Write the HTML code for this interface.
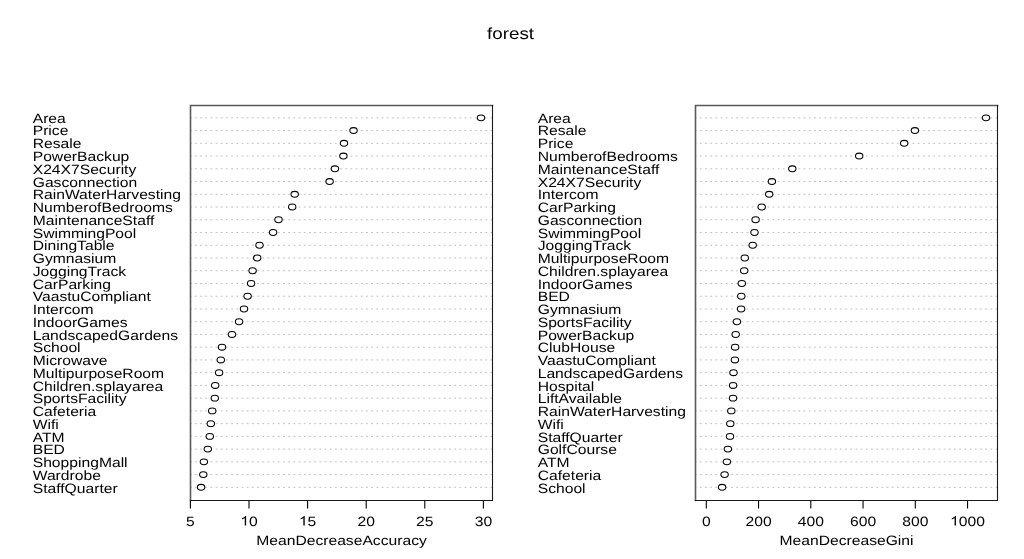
<!DOCTYPE html>
<html><head><meta charset="utf-8"><style>
html,body{margin:0;padding:0;background:#fff;width:1024px;height:559px;overflow:hidden}
svg{display:block;will-change:transform}
text{font-family:"Liberation Sans",sans-serif;fill:#000;text-rendering:geometricPrecision}
</style></head><body>
<svg width="1024" height="559" viewBox="0 0 1024 559">
<rect x="0" y="0" width="1024" height="559" fill="#fff"/>

<text transform="translate(510.6,38.5) scale(1.16,1)" font-size="16.2" text-anchor="middle">forest</text>
<line x1="190.50" y1="117.85" x2="492.50" y2="117.85" stroke="#bebebe" stroke-width="1" stroke-dasharray="1.8 3.387" stroke-dashoffset="0.800"/>
<line x1="190.50" y1="130.59" x2="492.50" y2="130.59" stroke="#bebebe" stroke-width="1" stroke-dasharray="1.8 3.387" stroke-dashoffset="0.800"/>
<line x1="190.50" y1="143.33" x2="492.50" y2="143.33" stroke="#bebebe" stroke-width="1" stroke-dasharray="1.8 3.387" stroke-dashoffset="0.800"/>
<line x1="190.50" y1="156.07" x2="492.50" y2="156.07" stroke="#bebebe" stroke-width="1" stroke-dasharray="1.8 3.387" stroke-dashoffset="0.800"/>
<line x1="190.50" y1="168.81" x2="492.50" y2="168.81" stroke="#bebebe" stroke-width="1" stroke-dasharray="1.8 3.387" stroke-dashoffset="0.800"/>
<line x1="190.50" y1="181.56" x2="492.50" y2="181.56" stroke="#bebebe" stroke-width="1" stroke-dasharray="1.8 3.387" stroke-dashoffset="0.800"/>
<line x1="190.50" y1="194.30" x2="492.50" y2="194.30" stroke="#bebebe" stroke-width="1" stroke-dasharray="1.8 3.387" stroke-dashoffset="0.800"/>
<line x1="190.50" y1="207.04" x2="492.50" y2="207.04" stroke="#bebebe" stroke-width="1" stroke-dasharray="1.8 3.387" stroke-dashoffset="0.800"/>
<line x1="190.50" y1="219.78" x2="492.50" y2="219.78" stroke="#bebebe" stroke-width="1" stroke-dasharray="1.8 3.387" stroke-dashoffset="0.800"/>
<line x1="190.50" y1="232.52" x2="492.50" y2="232.52" stroke="#bebebe" stroke-width="1" stroke-dasharray="1.8 3.387" stroke-dashoffset="0.800"/>
<line x1="190.50" y1="245.26" x2="492.50" y2="245.26" stroke="#bebebe" stroke-width="1" stroke-dasharray="1.8 3.387" stroke-dashoffset="0.800"/>
<line x1="190.50" y1="258.00" x2="492.50" y2="258.00" stroke="#bebebe" stroke-width="1" stroke-dasharray="1.8 3.387" stroke-dashoffset="0.800"/>
<line x1="190.50" y1="270.74" x2="492.50" y2="270.74" stroke="#bebebe" stroke-width="1" stroke-dasharray="1.8 3.387" stroke-dashoffset="0.800"/>
<line x1="190.50" y1="283.48" x2="492.50" y2="283.48" stroke="#bebebe" stroke-width="1" stroke-dasharray="1.8 3.387" stroke-dashoffset="0.800"/>
<line x1="190.50" y1="296.22" x2="492.50" y2="296.22" stroke="#bebebe" stroke-width="1" stroke-dasharray="1.8 3.387" stroke-dashoffset="0.800"/>
<line x1="190.50" y1="308.97" x2="492.50" y2="308.97" stroke="#bebebe" stroke-width="1" stroke-dasharray="1.8 3.387" stroke-dashoffset="0.800"/>
<line x1="190.50" y1="321.71" x2="492.50" y2="321.71" stroke="#bebebe" stroke-width="1" stroke-dasharray="1.8 3.387" stroke-dashoffset="0.800"/>
<line x1="190.50" y1="334.45" x2="492.50" y2="334.45" stroke="#bebebe" stroke-width="1" stroke-dasharray="1.8 3.387" stroke-dashoffset="0.800"/>
<line x1="190.50" y1="347.19" x2="492.50" y2="347.19" stroke="#bebebe" stroke-width="1" stroke-dasharray="1.8 3.387" stroke-dashoffset="0.800"/>
<line x1="190.50" y1="359.93" x2="492.50" y2="359.93" stroke="#bebebe" stroke-width="1" stroke-dasharray="1.8 3.387" stroke-dashoffset="0.800"/>
<line x1="190.50" y1="372.67" x2="492.50" y2="372.67" stroke="#bebebe" stroke-width="1" stroke-dasharray="1.8 3.387" stroke-dashoffset="0.800"/>
<line x1="190.50" y1="385.41" x2="492.50" y2="385.41" stroke="#bebebe" stroke-width="1" stroke-dasharray="1.8 3.387" stroke-dashoffset="0.800"/>
<line x1="190.50" y1="398.15" x2="492.50" y2="398.15" stroke="#bebebe" stroke-width="1" stroke-dasharray="1.8 3.387" stroke-dashoffset="0.800"/>
<line x1="190.50" y1="410.89" x2="492.50" y2="410.89" stroke="#bebebe" stroke-width="1" stroke-dasharray="1.8 3.387" stroke-dashoffset="0.800"/>
<line x1="190.50" y1="423.63" x2="492.50" y2="423.63" stroke="#bebebe" stroke-width="1" stroke-dasharray="1.8 3.387" stroke-dashoffset="0.800"/>
<line x1="190.50" y1="436.38" x2="492.50" y2="436.38" stroke="#bebebe" stroke-width="1" stroke-dasharray="1.8 3.387" stroke-dashoffset="0.800"/>
<line x1="190.50" y1="449.12" x2="492.50" y2="449.12" stroke="#bebebe" stroke-width="1" stroke-dasharray="1.8 3.387" stroke-dashoffset="0.800"/>
<line x1="190.50" y1="461.86" x2="492.50" y2="461.86" stroke="#bebebe" stroke-width="1" stroke-dasharray="1.8 3.387" stroke-dashoffset="0.800"/>
<line x1="190.50" y1="474.60" x2="492.50" y2="474.60" stroke="#bebebe" stroke-width="1" stroke-dasharray="1.8 3.387" stroke-dashoffset="0.800"/>
<line x1="190.50" y1="487.34" x2="492.50" y2="487.34" stroke="#bebebe" stroke-width="1" stroke-dasharray="1.8 3.387" stroke-dashoffset="0.800"/>
<path d="M190.50 500.50V105.50H492.50" fill="none" stroke="#5a5a5a" stroke-width="1.6" stroke-linecap="square"/>
<path d="M190.50 500.50H492.50V105.50" fill="none" stroke="#1a1a1a" stroke-width="1.1" stroke-linecap="square"/>
<ellipse cx="481.00" cy="117.85" rx="3.7" ry="2.95" fill="#fff" stroke="#000" stroke-width="1.05"/>
<ellipse cx="353.50" cy="130.59" rx="3.7" ry="2.95" fill="#fff" stroke="#000" stroke-width="1.05"/>
<ellipse cx="344.00" cy="143.33" rx="3.7" ry="2.95" fill="#fff" stroke="#000" stroke-width="1.05"/>
<ellipse cx="343.40" cy="156.07" rx="3.7" ry="2.95" fill="#fff" stroke="#000" stroke-width="1.05"/>
<ellipse cx="334.90" cy="168.81" rx="3.7" ry="2.95" fill="#fff" stroke="#000" stroke-width="1.05"/>
<ellipse cx="329.60" cy="181.56" rx="3.7" ry="2.95" fill="#fff" stroke="#000" stroke-width="1.05"/>
<ellipse cx="294.70" cy="194.30" rx="3.7" ry="2.95" fill="#fff" stroke="#000" stroke-width="1.05"/>
<ellipse cx="292.20" cy="207.04" rx="3.7" ry="2.95" fill="#fff" stroke="#000" stroke-width="1.05"/>
<ellipse cx="278.50" cy="219.78" rx="3.7" ry="2.95" fill="#fff" stroke="#000" stroke-width="1.05"/>
<ellipse cx="273.10" cy="232.52" rx="3.7" ry="2.95" fill="#fff" stroke="#000" stroke-width="1.05"/>
<ellipse cx="259.50" cy="245.26" rx="3.7" ry="2.95" fill="#fff" stroke="#000" stroke-width="1.05"/>
<ellipse cx="257.20" cy="258.00" rx="3.7" ry="2.95" fill="#fff" stroke="#000" stroke-width="1.05"/>
<ellipse cx="252.60" cy="270.74" rx="3.7" ry="2.95" fill="#fff" stroke="#000" stroke-width="1.05"/>
<ellipse cx="251.10" cy="283.48" rx="3.7" ry="2.95" fill="#fff" stroke="#000" stroke-width="1.05"/>
<ellipse cx="247.60" cy="296.22" rx="3.7" ry="2.95" fill="#fff" stroke="#000" stroke-width="1.05"/>
<ellipse cx="244.00" cy="308.97" rx="3.7" ry="2.95" fill="#fff" stroke="#000" stroke-width="1.05"/>
<ellipse cx="239.10" cy="321.71" rx="3.7" ry="2.95" fill="#fff" stroke="#000" stroke-width="1.05"/>
<ellipse cx="232.00" cy="334.45" rx="3.7" ry="2.95" fill="#fff" stroke="#000" stroke-width="1.05"/>
<ellipse cx="222.00" cy="347.19" rx="3.7" ry="2.95" fill="#fff" stroke="#000" stroke-width="1.05"/>
<ellipse cx="220.80" cy="359.93" rx="3.7" ry="2.95" fill="#fff" stroke="#000" stroke-width="1.05"/>
<ellipse cx="219.10" cy="372.67" rx="3.7" ry="2.95" fill="#fff" stroke="#000" stroke-width="1.05"/>
<ellipse cx="215.20" cy="385.41" rx="3.7" ry="2.95" fill="#fff" stroke="#000" stroke-width="1.05"/>
<ellipse cx="214.80" cy="398.15" rx="3.7" ry="2.95" fill="#fff" stroke="#000" stroke-width="1.05"/>
<ellipse cx="212.20" cy="410.89" rx="3.7" ry="2.95" fill="#fff" stroke="#000" stroke-width="1.05"/>
<ellipse cx="210.80" cy="423.63" rx="3.7" ry="2.95" fill="#fff" stroke="#000" stroke-width="1.05"/>
<ellipse cx="209.80" cy="436.38" rx="3.7" ry="2.95" fill="#fff" stroke="#000" stroke-width="1.05"/>
<ellipse cx="207.80" cy="449.12" rx="3.7" ry="2.95" fill="#fff" stroke="#000" stroke-width="1.05"/>
<ellipse cx="203.90" cy="461.86" rx="3.7" ry="2.95" fill="#fff" stroke="#000" stroke-width="1.05"/>
<ellipse cx="203.30" cy="474.60" rx="3.7" ry="2.95" fill="#fff" stroke="#000" stroke-width="1.05"/>
<ellipse cx="201.10" cy="487.34" rx="3.7" ry="2.95" fill="#fff" stroke="#000" stroke-width="1.05"/>
<text transform="translate(32.70,122.73) scale(1.16,1)" font-size="13.5">Area</text>
<text transform="translate(32.70,135.49) scale(1.16,1)" font-size="13.5">Price</text>
<text transform="translate(32.70,148.24) scale(1.16,1)" font-size="13.5">Resale</text>
<text transform="translate(32.70,161.00) scale(1.16,1)" font-size="13.5">PowerBackup</text>
<text transform="translate(32.70,173.75) scale(1.16,1)" font-size="13.5">X24X7Security</text>
<text transform="translate(32.70,186.51) scale(1.16,1)" font-size="13.5">Gasconnection</text>
<text transform="translate(32.70,199.27) scale(1.16,1)" font-size="13.5">RainWaterHarvesting</text>
<text transform="translate(32.70,212.02) scale(1.16,1)" font-size="13.5">NumberofBedrooms</text>
<text transform="translate(32.70,224.78) scale(1.16,1)" font-size="13.5">MaintenanceStaff</text>
<text transform="translate(32.70,237.53) scale(1.16,1)" font-size="13.5">SwimmingPool</text>
<text transform="translate(32.70,250.29) scale(1.16,1)" font-size="13.5">DiningTable</text>
<text transform="translate(32.70,263.05) scale(1.16,1)" font-size="13.5">Gymnasium</text>
<text transform="translate(32.70,275.80) scale(1.16,1)" font-size="13.5">JoggingTrack</text>
<text transform="translate(32.70,288.56) scale(1.16,1)" font-size="13.5">CarParking</text>
<text transform="translate(32.70,301.31) scale(1.16,1)" font-size="13.5">VaastuCompliant</text>
<text transform="translate(32.70,314.07) scale(1.16,1)" font-size="13.5">Intercom</text>
<text transform="translate(32.70,326.83) scale(1.16,1)" font-size="13.5">IndoorGames</text>
<text transform="translate(32.70,339.58) scale(1.16,1)" font-size="13.5">LandscapedGardens</text>
<text transform="translate(32.70,352.34) scale(1.16,1)" font-size="13.5">School</text>
<text transform="translate(32.70,365.09) scale(1.16,1)" font-size="13.5">Microwave</text>
<text transform="translate(32.70,377.85) scale(1.16,1)" font-size="13.5">MultipurposeRoom</text>
<text transform="translate(32.70,390.61) scale(1.16,1)" font-size="13.5">Children.splayarea</text>
<text transform="translate(32.70,403.36) scale(1.16,1)" font-size="13.5">SportsFacility</text>
<text transform="translate(32.70,416.12) scale(1.16,1)" font-size="13.5">Cafeteria</text>
<text transform="translate(32.70,428.87) scale(1.16,1)" font-size="13.5">Wifi</text>
<text transform="translate(32.70,441.63) scale(1.16,1)" font-size="13.5">ATM</text>
<text transform="translate(32.70,454.39) scale(1.16,1)" font-size="13.5">BED</text>
<text transform="translate(32.70,467.14) scale(1.16,1)" font-size="13.5">ShoppingMall</text>
<text transform="translate(32.70,479.90) scale(1.16,1)" font-size="13.5">Wardrobe</text>
<text transform="translate(32.70,492.65) scale(1.16,1)" font-size="13.5">StaffQuarter</text>
<line x1="190.40" y1="500.50" x2="190.40" y2="508.5" stroke="#000" stroke-width="1.1"/>
<text transform="translate(186.05,525.60) scale(1.16,1)" font-size="13.5">5</text>
<line x1="249.00" y1="500.50" x2="249.00" y2="508.5" stroke="#000" stroke-width="1.1"/>
<path transform="translate(240.29,525.60) scale(0.00765,-0.00659)" d="M763 0L583 0L583 1147C540 1106 483 1065 413 1024C343 983 280 952 223 931L223 1105C324 1152 412 1210 487 1277C562 1344 615 1409 646 1472L763 1472Z" fill="#000"/><text transform="translate(249.00,525.60) scale(1.16,1)" font-size="13.5">0</text>
<line x1="307.60" y1="500.50" x2="307.60" y2="508.5" stroke="#000" stroke-width="1.1"/>
<path transform="translate(298.89,525.60) scale(0.00765,-0.00659)" d="M763 0L583 0L583 1147C540 1106 483 1065 413 1024C343 983 280 952 223 931L223 1105C324 1152 412 1210 487 1277C562 1344 615 1409 646 1472L763 1472Z" fill="#000"/><text transform="translate(307.60,525.60) scale(1.16,1)" font-size="13.5">5</text>
<line x1="366.20" y1="500.50" x2="366.20" y2="508.5" stroke="#000" stroke-width="1.1"/>
<text transform="translate(357.49,525.60) scale(1.16,1)" font-size="13.5">2</text><text transform="translate(366.20,525.60) scale(1.16,1)" font-size="13.5">0</text>
<line x1="424.80" y1="500.50" x2="424.80" y2="508.5" stroke="#000" stroke-width="1.1"/>
<text transform="translate(416.09,525.60) scale(1.16,1)" font-size="13.5">2</text><text transform="translate(424.80,525.60) scale(1.16,1)" font-size="13.5">5</text>
<line x1="483.40" y1="500.50" x2="483.40" y2="508.5" stroke="#000" stroke-width="1.1"/>
<text transform="translate(474.69,525.60) scale(1.16,1)" font-size="13.5">3</text><text transform="translate(483.40,525.60) scale(1.16,1)" font-size="13.5">0</text>
<text transform="translate(341.50,545.2) scale(1.16,1)" font-size="13.5" text-anchor="middle">MeanDecreaseAccuracy</text>
<line x1="695.50" y1="117.85" x2="997.50" y2="117.85" stroke="#bebebe" stroke-width="1" stroke-dasharray="1.8 3.387" stroke-dashoffset="0.800"/>
<line x1="695.50" y1="130.59" x2="997.50" y2="130.59" stroke="#bebebe" stroke-width="1" stroke-dasharray="1.8 3.387" stroke-dashoffset="0.800"/>
<line x1="695.50" y1="143.33" x2="997.50" y2="143.33" stroke="#bebebe" stroke-width="1" stroke-dasharray="1.8 3.387" stroke-dashoffset="0.800"/>
<line x1="695.50" y1="156.07" x2="997.50" y2="156.07" stroke="#bebebe" stroke-width="1" stroke-dasharray="1.8 3.387" stroke-dashoffset="0.800"/>
<line x1="695.50" y1="168.81" x2="997.50" y2="168.81" stroke="#bebebe" stroke-width="1" stroke-dasharray="1.8 3.387" stroke-dashoffset="0.800"/>
<line x1="695.50" y1="181.56" x2="997.50" y2="181.56" stroke="#bebebe" stroke-width="1" stroke-dasharray="1.8 3.387" stroke-dashoffset="0.800"/>
<line x1="695.50" y1="194.30" x2="997.50" y2="194.30" stroke="#bebebe" stroke-width="1" stroke-dasharray="1.8 3.387" stroke-dashoffset="0.800"/>
<line x1="695.50" y1="207.04" x2="997.50" y2="207.04" stroke="#bebebe" stroke-width="1" stroke-dasharray="1.8 3.387" stroke-dashoffset="0.800"/>
<line x1="695.50" y1="219.78" x2="997.50" y2="219.78" stroke="#bebebe" stroke-width="1" stroke-dasharray="1.8 3.387" stroke-dashoffset="0.800"/>
<line x1="695.50" y1="232.52" x2="997.50" y2="232.52" stroke="#bebebe" stroke-width="1" stroke-dasharray="1.8 3.387" stroke-dashoffset="0.800"/>
<line x1="695.50" y1="245.26" x2="997.50" y2="245.26" stroke="#bebebe" stroke-width="1" stroke-dasharray="1.8 3.387" stroke-dashoffset="0.800"/>
<line x1="695.50" y1="258.00" x2="997.50" y2="258.00" stroke="#bebebe" stroke-width="1" stroke-dasharray="1.8 3.387" stroke-dashoffset="0.800"/>
<line x1="695.50" y1="270.74" x2="997.50" y2="270.74" stroke="#bebebe" stroke-width="1" stroke-dasharray="1.8 3.387" stroke-dashoffset="0.800"/>
<line x1="695.50" y1="283.48" x2="997.50" y2="283.48" stroke="#bebebe" stroke-width="1" stroke-dasharray="1.8 3.387" stroke-dashoffset="0.800"/>
<line x1="695.50" y1="296.22" x2="997.50" y2="296.22" stroke="#bebebe" stroke-width="1" stroke-dasharray="1.8 3.387" stroke-dashoffset="0.800"/>
<line x1="695.50" y1="308.97" x2="997.50" y2="308.97" stroke="#bebebe" stroke-width="1" stroke-dasharray="1.8 3.387" stroke-dashoffset="0.800"/>
<line x1="695.50" y1="321.71" x2="997.50" y2="321.71" stroke="#bebebe" stroke-width="1" stroke-dasharray="1.8 3.387" stroke-dashoffset="0.800"/>
<line x1="695.50" y1="334.45" x2="997.50" y2="334.45" stroke="#bebebe" stroke-width="1" stroke-dasharray="1.8 3.387" stroke-dashoffset="0.800"/>
<line x1="695.50" y1="347.19" x2="997.50" y2="347.19" stroke="#bebebe" stroke-width="1" stroke-dasharray="1.8 3.387" stroke-dashoffset="0.800"/>
<line x1="695.50" y1="359.93" x2="997.50" y2="359.93" stroke="#bebebe" stroke-width="1" stroke-dasharray="1.8 3.387" stroke-dashoffset="0.800"/>
<line x1="695.50" y1="372.67" x2="997.50" y2="372.67" stroke="#bebebe" stroke-width="1" stroke-dasharray="1.8 3.387" stroke-dashoffset="0.800"/>
<line x1="695.50" y1="385.41" x2="997.50" y2="385.41" stroke="#bebebe" stroke-width="1" stroke-dasharray="1.8 3.387" stroke-dashoffset="0.800"/>
<line x1="695.50" y1="398.15" x2="997.50" y2="398.15" stroke="#bebebe" stroke-width="1" stroke-dasharray="1.8 3.387" stroke-dashoffset="0.800"/>
<line x1="695.50" y1="410.89" x2="997.50" y2="410.89" stroke="#bebebe" stroke-width="1" stroke-dasharray="1.8 3.387" stroke-dashoffset="0.800"/>
<line x1="695.50" y1="423.63" x2="997.50" y2="423.63" stroke="#bebebe" stroke-width="1" stroke-dasharray="1.8 3.387" stroke-dashoffset="0.800"/>
<line x1="695.50" y1="436.38" x2="997.50" y2="436.38" stroke="#bebebe" stroke-width="1" stroke-dasharray="1.8 3.387" stroke-dashoffset="0.800"/>
<line x1="695.50" y1="449.12" x2="997.50" y2="449.12" stroke="#bebebe" stroke-width="1" stroke-dasharray="1.8 3.387" stroke-dashoffset="0.800"/>
<line x1="695.50" y1="461.86" x2="997.50" y2="461.86" stroke="#bebebe" stroke-width="1" stroke-dasharray="1.8 3.387" stroke-dashoffset="0.800"/>
<line x1="695.50" y1="474.60" x2="997.50" y2="474.60" stroke="#bebebe" stroke-width="1" stroke-dasharray="1.8 3.387" stroke-dashoffset="0.800"/>
<line x1="695.50" y1="487.34" x2="997.50" y2="487.34" stroke="#bebebe" stroke-width="1" stroke-dasharray="1.8 3.387" stroke-dashoffset="0.800"/>
<path d="M695.50 500.50V105.50H997.50" fill="none" stroke="#5a5a5a" stroke-width="1.6" stroke-linecap="square"/>
<path d="M695.50 500.50H997.50V105.50" fill="none" stroke="#1a1a1a" stroke-width="1.1" stroke-linecap="square"/>
<ellipse cx="986.00" cy="117.85" rx="3.7" ry="2.95" fill="#fff" stroke="#000" stroke-width="1.05"/>
<ellipse cx="914.90" cy="130.59" rx="3.7" ry="2.95" fill="#fff" stroke="#000" stroke-width="1.05"/>
<ellipse cx="904.20" cy="143.33" rx="3.7" ry="2.95" fill="#fff" stroke="#000" stroke-width="1.05"/>
<ellipse cx="859.20" cy="156.07" rx="3.7" ry="2.95" fill="#fff" stroke="#000" stroke-width="1.05"/>
<ellipse cx="792.30" cy="168.81" rx="3.7" ry="2.95" fill="#fff" stroke="#000" stroke-width="1.05"/>
<ellipse cx="771.90" cy="181.56" rx="3.7" ry="2.95" fill="#fff" stroke="#000" stroke-width="1.05"/>
<ellipse cx="769.20" cy="194.30" rx="3.7" ry="2.95" fill="#fff" stroke="#000" stroke-width="1.05"/>
<ellipse cx="761.70" cy="207.04" rx="3.7" ry="2.95" fill="#fff" stroke="#000" stroke-width="1.05"/>
<ellipse cx="755.60" cy="219.78" rx="3.7" ry="2.95" fill="#fff" stroke="#000" stroke-width="1.05"/>
<ellipse cx="754.50" cy="232.52" rx="3.7" ry="2.95" fill="#fff" stroke="#000" stroke-width="1.05"/>
<ellipse cx="752.70" cy="245.26" rx="3.7" ry="2.95" fill="#fff" stroke="#000" stroke-width="1.05"/>
<ellipse cx="744.80" cy="258.00" rx="3.7" ry="2.95" fill="#fff" stroke="#000" stroke-width="1.05"/>
<ellipse cx="744.20" cy="270.74" rx="3.7" ry="2.95" fill="#fff" stroke="#000" stroke-width="1.05"/>
<ellipse cx="741.80" cy="283.48" rx="3.7" ry="2.95" fill="#fff" stroke="#000" stroke-width="1.05"/>
<ellipse cx="741.30" cy="296.22" rx="3.7" ry="2.95" fill="#fff" stroke="#000" stroke-width="1.05"/>
<ellipse cx="741.10" cy="308.97" rx="3.7" ry="2.95" fill="#fff" stroke="#000" stroke-width="1.05"/>
<ellipse cx="736.90" cy="321.71" rx="3.7" ry="2.95" fill="#fff" stroke="#000" stroke-width="1.05"/>
<ellipse cx="735.70" cy="334.45" rx="3.7" ry="2.95" fill="#fff" stroke="#000" stroke-width="1.05"/>
<ellipse cx="735.10" cy="347.19" rx="3.7" ry="2.95" fill="#fff" stroke="#000" stroke-width="1.05"/>
<ellipse cx="734.90" cy="359.93" rx="3.7" ry="2.95" fill="#fff" stroke="#000" stroke-width="1.05"/>
<ellipse cx="733.50" cy="372.67" rx="3.7" ry="2.95" fill="#fff" stroke="#000" stroke-width="1.05"/>
<ellipse cx="733.10" cy="385.41" rx="3.7" ry="2.95" fill="#fff" stroke="#000" stroke-width="1.05"/>
<ellipse cx="733.00" cy="398.15" rx="3.7" ry="2.95" fill="#fff" stroke="#000" stroke-width="1.05"/>
<ellipse cx="731.30" cy="410.89" rx="3.7" ry="2.95" fill="#fff" stroke="#000" stroke-width="1.05"/>
<ellipse cx="730.30" cy="423.63" rx="3.7" ry="2.95" fill="#fff" stroke="#000" stroke-width="1.05"/>
<ellipse cx="730.00" cy="436.38" rx="3.7" ry="2.95" fill="#fff" stroke="#000" stroke-width="1.05"/>
<ellipse cx="727.90" cy="449.12" rx="3.7" ry="2.95" fill="#fff" stroke="#000" stroke-width="1.05"/>
<ellipse cx="726.90" cy="461.86" rx="3.7" ry="2.95" fill="#fff" stroke="#000" stroke-width="1.05"/>
<ellipse cx="724.60" cy="474.60" rx="3.7" ry="2.95" fill="#fff" stroke="#000" stroke-width="1.05"/>
<ellipse cx="722.10" cy="487.34" rx="3.7" ry="2.95" fill="#fff" stroke="#000" stroke-width="1.05"/>
<text transform="translate(537.70,122.73) scale(1.16,1)" font-size="13.5">Area</text>
<text transform="translate(537.70,135.49) scale(1.16,1)" font-size="13.5">Resale</text>
<text transform="translate(537.70,148.24) scale(1.16,1)" font-size="13.5">Price</text>
<text transform="translate(537.70,161.00) scale(1.16,1)" font-size="13.5">NumberofBedrooms</text>
<text transform="translate(537.70,173.75) scale(1.16,1)" font-size="13.5">MaintenanceStaff</text>
<text transform="translate(537.70,186.51) scale(1.16,1)" font-size="13.5">X24X7Security</text>
<text transform="translate(537.70,199.27) scale(1.16,1)" font-size="13.5">Intercom</text>
<text transform="translate(537.70,212.02) scale(1.16,1)" font-size="13.5">CarParking</text>
<text transform="translate(537.70,224.78) scale(1.16,1)" font-size="13.5">Gasconnection</text>
<text transform="translate(537.70,237.53) scale(1.16,1)" font-size="13.5">SwimmingPool</text>
<text transform="translate(537.70,250.29) scale(1.16,1)" font-size="13.5">JoggingTrack</text>
<text transform="translate(537.70,263.05) scale(1.16,1)" font-size="13.5">MultipurposeRoom</text>
<text transform="translate(537.70,275.80) scale(1.16,1)" font-size="13.5">Children.splayarea</text>
<text transform="translate(537.70,288.56) scale(1.16,1)" font-size="13.5">IndoorGames</text>
<text transform="translate(537.70,301.31) scale(1.16,1)" font-size="13.5">BED</text>
<text transform="translate(537.70,314.07) scale(1.16,1)" font-size="13.5">Gymnasium</text>
<text transform="translate(537.70,326.83) scale(1.16,1)" font-size="13.5">SportsFacility</text>
<text transform="translate(537.70,339.58) scale(1.16,1)" font-size="13.5">PowerBackup</text>
<text transform="translate(537.70,352.34) scale(1.16,1)" font-size="13.5">ClubHouse</text>
<text transform="translate(537.70,365.09) scale(1.16,1)" font-size="13.5">VaastuCompliant</text>
<text transform="translate(537.70,377.85) scale(1.16,1)" font-size="13.5">LandscapedGardens</text>
<text transform="translate(537.70,390.61) scale(1.16,1)" font-size="13.5">Hospital</text>
<text transform="translate(537.70,403.36) scale(1.16,1)" font-size="13.5">LiftAvailable</text>
<text transform="translate(537.70,416.12) scale(1.16,1)" font-size="13.5">RainWaterHarvesting</text>
<text transform="translate(537.70,428.87) scale(1.16,1)" font-size="13.5">Wifi</text>
<text transform="translate(537.70,441.63) scale(1.16,1)" font-size="13.5">StaffQuarter</text>
<text transform="translate(537.70,454.39) scale(1.16,1)" font-size="13.5">GolfCourse</text>
<text transform="translate(537.70,467.14) scale(1.16,1)" font-size="13.5">ATM</text>
<text transform="translate(537.70,479.90) scale(1.16,1)" font-size="13.5">Cafeteria</text>
<text transform="translate(537.70,492.65) scale(1.16,1)" font-size="13.5">School</text>
<line x1="706.30" y1="500.50" x2="706.30" y2="508.5" stroke="#000" stroke-width="1.1"/>
<text transform="translate(701.95,525.60) scale(1.16,1)" font-size="13.5">0</text>
<line x1="758.55" y1="500.50" x2="758.55" y2="508.5" stroke="#000" stroke-width="1.1"/>
<text transform="translate(745.49,525.60) scale(1.16,1)" font-size="13.5">2</text><text transform="translate(754.20,525.60) scale(1.16,1)" font-size="13.5">0</text><text transform="translate(762.90,525.60) scale(1.16,1)" font-size="13.5">0</text>
<line x1="810.80" y1="500.50" x2="810.80" y2="508.5" stroke="#000" stroke-width="1.1"/>
<text transform="translate(797.74,525.60) scale(1.16,1)" font-size="13.5">4</text><text transform="translate(806.45,525.60) scale(1.16,1)" font-size="13.5">0</text><text transform="translate(815.15,525.60) scale(1.16,1)" font-size="13.5">0</text>
<line x1="863.05" y1="500.50" x2="863.05" y2="508.5" stroke="#000" stroke-width="1.1"/>
<text transform="translate(849.99,525.60) scale(1.16,1)" font-size="13.5">6</text><text transform="translate(858.70,525.60) scale(1.16,1)" font-size="13.5">0</text><text transform="translate(867.40,525.60) scale(1.16,1)" font-size="13.5">0</text>
<line x1="915.30" y1="500.50" x2="915.30" y2="508.5" stroke="#000" stroke-width="1.1"/>
<text transform="translate(902.24,525.60) scale(1.16,1)" font-size="13.5">8</text><text transform="translate(910.95,525.60) scale(1.16,1)" font-size="13.5">0</text><text transform="translate(919.65,525.60) scale(1.16,1)" font-size="13.5">0</text>
<line x1="967.55" y1="500.50" x2="967.55" y2="508.5" stroke="#000" stroke-width="1.1"/>
<path transform="translate(950.13,525.60) scale(0.00765,-0.00659)" d="M763 0L583 0L583 1147C540 1106 483 1065 413 1024C343 983 280 952 223 931L223 1105C324 1152 412 1210 487 1277C562 1344 615 1409 646 1472L763 1472Z" fill="#000"/><text transform="translate(958.84,525.60) scale(1.16,1)" font-size="13.5">0</text><text transform="translate(967.55,525.60) scale(1.16,1)" font-size="13.5">0</text><text transform="translate(976.26,525.60) scale(1.16,1)" font-size="13.5">0</text>
<text transform="translate(846.50,545.2) scale(1.16,1)" font-size="13.5" text-anchor="middle">MeanDecreaseGini</text>
</svg></body></html>
